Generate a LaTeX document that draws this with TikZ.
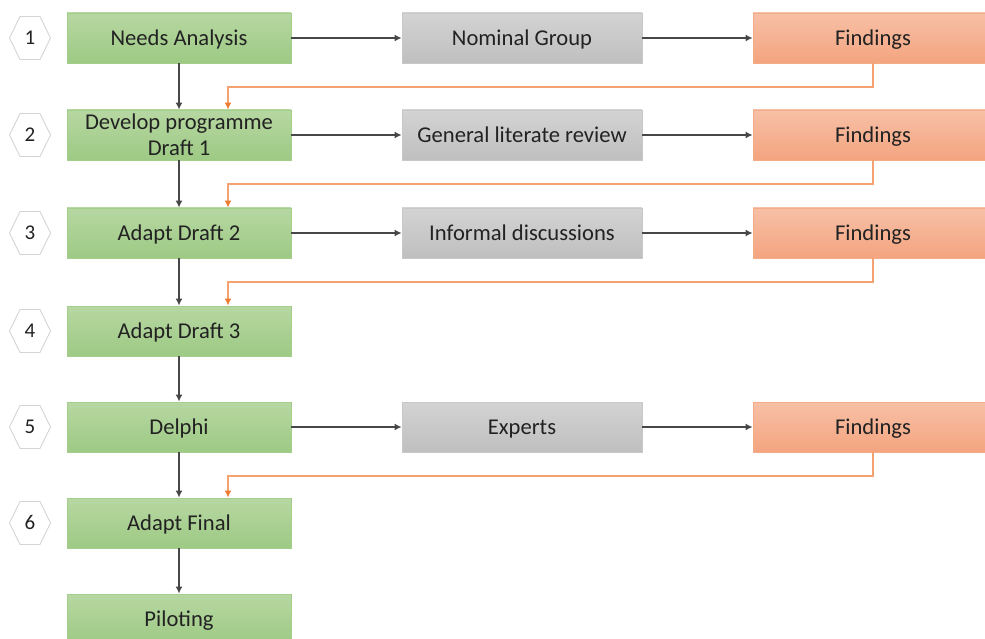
\documentclass[tikz,border=0pt]{standalone}
\usepackage{fontspec}
\setmainfont{Carlito}
\usetikzlibrary{arrows.meta,calc}

\definecolor{gtop}{HTML}{B7D7A2}
\definecolor{gbot}{HTML}{9DCA84}
\definecolor{gedge}{HTML}{A3CF8A}
\definecolor{ytop}{HTML}{D3D3D3}
\definecolor{ybot}{HTML}{BFBFBF}
\definecolor{yedge}{HTML}{C8C8C8}
\definecolor{otop}{HTML}{F7C0A6}
\definecolor{obot}{HTML}{F4A47F}
\definecolor{oedge}{HTML}{F2AC87}
\definecolor{oline}{HTML}{F4A271}
\definecolor{otip}{HTML}{ED7D31}
\definecolor{txt}{HTML}{222222}
\definecolor{hexc}{HTML}{D4D4D4}

\tikzset{
  box/.style={rectangle, minimum height=50pt, inner sep=0pt, align=center,
    font=\fontsize{22.6}{26}\selectfont, text=txt, line width=0.8pt,
    text height=14.5pt, text depth=0pt},
  stepbox/.style={box, minimum width=224pt, top color=gtop, bottom color=gbot, draw=gedge},
  toolbox/.style={box, minimum width=240pt, top color=ytop, bottom color=ybot, draw=yedge},
  findbox/.style={box, minimum width=240pt, top color=otop, bottom color=obot, draw=oedge},
  num/.style={font=\fontsize{21}{24}\selectfont, text=txt, inner sep=0pt,
    text height=13.5pt, text depth=0pt},
  hexline/.style={draw=hexc, line width=0.9pt},
  flow/.style={draw=black!72, line width=2pt, -{Latex[length=7pt,width=7pt]}},
  feed/.style={draw=oline, line width=2pt, -{Latex[length=7pt,width=7pt,color=otip]}}
}

\begin{document}
\begin{tikzpicture}[x=1pt,y=-1pt]
\useasboundingbox (0,0) rectangle (985,639);
\clip (0,0) rectangle (985,639);

% main column of steps
\node[stepbox] (n1) at (179,38)  {Needs Analysis};
\node[stepbox, text height=40.5pt] (n2) at (179,135) {Develop programme\\Draft 1};
\node[stepbox] (n3) at (179,233) {Adapt Draft 2};
\node[stepbox] (n4) at (179,331) {Adapt Draft 3};
\node[stepbox] (n5) at (179,427) {Delphi};
\node[stepbox] (n6) at (179,523) {Adapt Final};
\node[stepbox] (n7) at (179,619) {Piloting};

% methods used at each stage
\node[toolbox] (t1) at (522,38)  {Nominal Group};
\node[toolbox] (t2) at (522,135) {General literate review};
\node[toolbox] (t3) at (522,233) {Informal discussions};
\node[toolbox] (t5) at (522,427) {Experts};

% results
\node[findbox] (f1) at (873,38)  {Findings};
\node[findbox] (f2) at (873,135) {Findings};
\node[findbox] (f3) at (873,233) {Findings};
\node[findbox] (f5) at (873,427) {Findings};

% numbered hexagons
\foreach \i/\y in {1/38,2/135,3/233,4/331,5/427,6/523}{
  \node[num] (h\i) at (30,\y) {\i};
  \draw[hexline] (h\i.center) ++(-20.5,0) -- ++(10.5,-21.5) -- ++(20,0)
    -- ++(10.5,21.5) -- ++(-10.5,21.5) -- ++(-20,0) -- cycle;
}

% vertical flow
\draw[flow] (n1) -- (n2);
\draw[flow] (n2) -- (n3);
\draw[flow] (n3) -- (n4);
\draw[flow] (n4) -- (n5);
\draw[flow] (n5) -- (n6);
\draw[flow] (n6) -- (n7);

% horizontal flow
\foreach \i in {1,2,3,5}{
  \draw[flow] (n\i) -- (t\i);
  \draw[flow] (t\i) -- (f\i);
}

% feedback into the next step
\draw[feed] (f1.south) -- ++(0,24) -| ([xshift=49pt]n2.north);
\draw[feed] (f2.south) -- ++(0,24) -| ([xshift=49pt]n3.north);
\draw[feed] (f3.south) -- ++(0,24) -| ([xshift=49pt]n4.north);
\draw[feed] (f5.south) -- ++(0,24) -| ([xshift=49pt]n6.north);
\end{tikzpicture}
\end{document}
